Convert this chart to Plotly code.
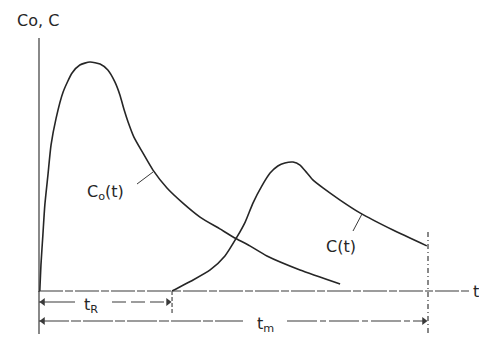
import plotly.graph_objects as go

# ---- data (time in units of t_m/10, concentration relative to peak of Co) ----
co_t = [0.02, 0.05, 0.10, 0.15, 0.23, 0.31, 0.44, 0.62, 0.85, 1.05, 1.31, 1.57, 1.77, 1.95,
        2.08, 2.19, 2.29, 2.44, 2.67, 2.93, 3.29, 3.70, 4.14, 4.65, 4.99, 5.42, 5.86, 6.71, 7.74]
co_c = [0.0, 0.114, 0.245, 0.376, 0.507, 0.638, 0.755, 0.869, 0.952, 0.987, 1.0, 0.991, 0.965, 0.913,
        0.856, 0.790, 0.738, 0.672, 0.603, 0.528, 0.450, 0.384, 0.323, 0.271, 0.236, 0.197, 0.153, 0.092, 0.031]

c_t = [3.42, 3.96, 4.40, 4.78, 5.09, 5.30, 5.50, 5.73, 5.94, 6.14, 6.32, 6.53, 6.71, 6.89,
       7.04, 7.30, 7.74, 8.25, 9.10, 9.97]
c_c = [0.0, 0.048, 0.092, 0.153, 0.236, 0.301, 0.384, 0.459, 0.515, 0.546, 0.559, 0.563, 0.550, 0.515,
       0.485, 0.450, 0.397, 0.341, 0.266, 0.197]

t_R = 3.42
t_m = 10.0

labels = {"axis_y": "Co, C", "axis_x": "t", "co": "C<sub>o</sub>(t)", "c": "C(t)",
          "tR": "t<sub>R</sub>", "tm": "t<sub>m</sub>"}

# ---- layout helpers (pixel geometry of the drawing) ----
W, H = 479, 338
X0, KX = 39.0, 38.9      # pixel of t=0, pixels per time unit
Y0, KY = 291.0, 229.0    # pixel of c=0, pixels per concentration unit


def tx(px):
    return (px - X0) / KX


def cy(py):
    return (Y0 - py) / KY


def dx(pixels):
    return pixels / KX


INK = "#262626"
AX = "#3a3a3a"
FONT = "DejaVu Sans"

fig = go.Figure()

fig.add_trace(go.Scatter(x=co_t, y=co_c, mode="lines",
                         line=dict(color=INK, width=1.6, shape="spline", smoothing=0.6),
                         hoverinfo="skip", showlegend=False))
fig.add_trace(go.Scatter(x=c_t, y=c_c, mode="lines",
                         line=dict(color=INK, width=1.6, shape="spline", smoothing=0.6),
                         hoverinfo="skip", showlegend=False))


def seg(x0, y0, x1, y1, dash="solid", width=1.0, color=AX):
    fig.add_shape(type="line", x0=x0, y0=y0, x1=x1, y1=y1, xref="x", yref="y",
                  line=dict(color=color, width=width, dash=dash))


# axes
seg(0, cy(292), 0, cy(38), width=1.2)
seg(0, 0, tx(470), 0, dash="24px,2px,8px,2px", width=1.2)
# ticks / guides below axis
seg(0, 0, 0, cy(334), width=1.2)
seg(t_R, 0, t_R, cy(314), dash="4px,2px", width=1.1)
seg(t_m, cy(232), t_m, cy(336), dash="5px,3px,1px,3px", width=1.2)

# dimension lines
y_tr = cy(302)
y_tm = cy(321)
seg(0, y_tr, tx(75), y_tr, width=1.1)
seg(tx(112), y_tr, t_R - dx(3), y_tr, dash="14px,5px", width=1.1)
seg(0, y_tm, tx(243), y_tm, dash="30px,2px,10px,2px", width=1.1)
seg(tx(287), y_tm, t_m - dx(3), y_tm, dash="30px,3px,6px,3px", width=1.1)

# arrowheads
fig.add_trace(go.Scatter(x=[t_R - dx(4), t_m - dx(4)], y=[y_tr, y_tm], mode="markers",
                         marker=dict(symbol="triangle-right", size=7, color=AX),
                         hoverinfo="skip", showlegend=False))
fig.add_trace(go.Scatter(x=[dx(4), dx(4)], y=[y_tr, y_tm], mode="markers",
                         marker=dict(symbol="triangle-left", size=7, color=AX),
                         hoverinfo="skip", showlegend=False))

# leader lines for curve labels
seg(tx(137), cy(184), tx(153), cy(172), width=1.0)
seg(tx(353), cy(231), tx(362), cy(214), width=1.0)

tfont = dict(family=FONT, size=16, color=INK)
fig.add_annotation(x=tx(38), y=cy(20), text=labels["axis_y"], showarrow=False, font=tfont)
fig.add_annotation(x=tx(471), y=cy(291), text=labels["axis_x"], showarrow=False, font=tfont,
                   xanchor="left")
fig.add_annotation(x=tx(105), y=cy(192), text=labels["co"], showarrow=False, font=tfont)
fig.add_annotation(x=tx(341), y=cy(246), text=labels["c"], showarrow=False, font=tfont)
fig.add_annotation(x=tx(91), y=cy(305), text=labels["tR"], showarrow=False, font=tfont)
fig.add_annotation(x=tx(265), y=cy(324), text=labels["tm"], showarrow=False, font=tfont)

fig.update_layout(
    width=W, height=H,
    margin=dict(l=0, r=0, t=0, b=0),
    paper_bgcolor="white", plot_bgcolor="white",
    xaxis=dict(range=[tx(0), tx(W)], visible=False, fixedrange=True),
    yaxis=dict(range=[cy(H), cy(0)], visible=False, fixedrange=True),
    showlegend=False,
)

fig.write_html("out.html", config={"displayModeBar": False},
               post_script="document.body.style.margin='0px';document.body.style.overflow='hidden';")
